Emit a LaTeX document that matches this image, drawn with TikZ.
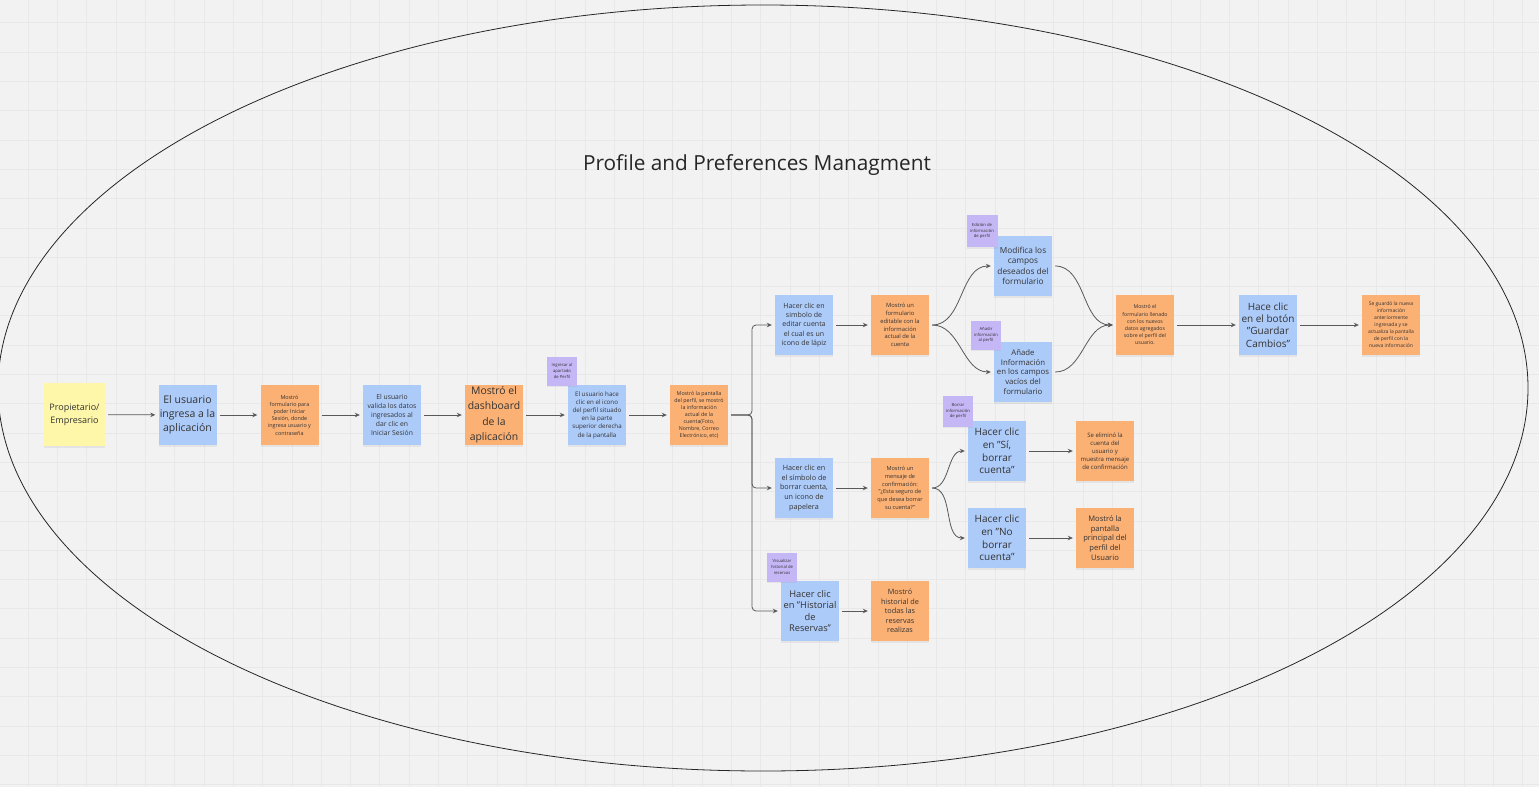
\documentclass[tikz,border=0pt]{standalone}
\usepackage{fontspec}
\setmainfont{Open Sans}
\usepackage{tikz}
\usetikzlibrary{arrows.meta,positioning,shadows}

\definecolor{fondo}{HTML}{F2F2F2}
\definecolor{rejilla}{HTML}{E8E8E8}
\definecolor{notaAmarilla}{HTML}{FEF6A8}
\definecolor{notaAzul}{HTML}{ADCBF9}
\definecolor{notaNaranja}{HTML}{FBB074}
\definecolor{notaMorada}{HTML}{C5B6F6}
\definecolor{texto}{HTML}{333333}
\newcommand{\fz}[2]{\fontsize{#1}{#2}\selectfont}

\begin{document}
\begin{tikzpicture}[x=1pt, y=-1pt, >={Stealth[length=5pt,width=4.5pt]},
	nota/.style={minimum width=58pt, minimum height=60pt, inner sep=0pt, align=center, text=texto,
		drop shadow={opacity=0.12, shadow xshift=0pt, shadow yshift=-1.5pt}},
	amarilla/.style={nota, fill=notaAmarilla, minimum width=61pt, minimum height=63pt},
	azul/.style={nota, fill=notaAzul},
	naranja/.style={nota, fill=notaNaranja},
	morada/.style={nota, fill=notaMorada, minimum width=30pt, minimum height=29pt, font=\fz{4.2}{5.6}},
	flecha/.style={->, draw=black!65, line width=0.8pt, shorten >=3pt, shorten <=3pt}]

% ---- fondo ----
\fill[fondo] (0,0) rectangle (1539,787);
\useasboundingbox (0,0) rectangle (1539,787);
\foreach \gx in {0,...,51}
	\draw[rejilla, line width=0.6pt] ({28.1+29.3*\gx},0) -- ++(0,787);
\foreach \gy in {0,...,26}
	\draw[rejilla, line width=0.6pt] (0,{22.7+29.3*\gy}) -- ++(1539,0);
\draw[black!85, line width=0.8pt] (763,388) ellipse [x radius=765, y radius=383];
\node[font=\fz{20.8}{25}, text=black!85] (titulo) at (757,165) {Profile and Preferences Managment};

% ---- flujo principal ----
\node[amarilla, font=\fz{9}{13}] (prop) at (74.5,414.5) {Propietario/\\Empresario};
\node[azul, font=\fz{10.5}{14}] (usuario) at (187.5,415) {El usuario\\ingresa a la\\aplicación};
\node[naranja, font=\fz{5.4}{7.2}] (formLogin) at (289.5,415) {Mostró\\formulario para\\poder Iniciar\\Sesión, donde\\ingresa usuario y\\contraseña};
\node[azul, font=\fz{6.8}{9}] (valida) at (392,415) {El usuario\\valida los datos\\ingresados al\\dar clic en\\Iniciar Sesión};
\node[naranja, font=\fz{10.4}{15.5}] (dashboard) at (494,415) {Mostró el\\dashboard\\de la\\aplicación};
\node[azul, font=\fz{6.2}{8.2}] (clicPerfil) at (597,415) {El usuario hace\\clic en el icono\\del perfil situado\\en la parte\\superior derecha\\de la pantalla};
\node[naranja, font=\fz{5.3}{7}] (perfil) at (699,415) {Mostró la pantalla\\del perfil, se mostró\\la información\\actual de la\\cuenta(Foto,\\Nombre, Correo\\Electrónico, etc)};

% ---- editar cuenta ----
\node[azul, font=\fz{7}{9.3}] (editar) at (804,325) {Hacer clic en\\simbolo de\\editar cuenta\\el cual es un\\icono de lápiz};
\node[naranja, font=\fz{5.8}{7.8}] (formEdit) at (900,325) {Mostró un\\formulario\\editable con la\\información\\actual de la\\cuenta};
\node[azul, font=\fz{8.3}{10.5}] (modifica) at (1023,266) {Modifica los\\campos\\deseados del\\formulario};
\node[azul, font=\fz{7.8}{9.8}] (anade) at (1023,372) {Añade\\Información\\en los campos\\vacíos del\\formulario};
\node[naranja, font=\fz{5.2}{7.2}] (formLleno) at (1145,325) {Mostró el\\formulario llenado\\con los nuevos\\datos agregados\\sobre el perfil del\\usuario.};
\node[azul, font=\fz{10}{12.4}] (guardar) at (1268,325) {Hace clic\\en el botón\\"Guardar\\Cambios"};
\node[naranja, font=\fz{5}{7}] (guardado) at (1391,325) {Se guardó la nueva\\información\\anteriormente\\ingresada y se\\actualiza la pantalla\\de perfil con la\\nueva información};

% ---- borrar cuenta ----
\node[azul, font=\fz{7.2}{9.6}] (borrar) at (804,488) {Hacer clic en\\el símbolo de\\borrar cuenta,\\un icono de\\papelera};
\node[naranja, font=\fz{5.6}{7.7}] (confirma) at (900,488) {Mostró un\\mensaje de\\confirmación:\\"¿Esta seguro de\\que desea borrar\\su cuenta?"};
\node[azul, font=\fz{10}{12.8}] (si) at (997,451) {Hacer clic\\en "Sí,\\borrar\\cuenta"};
\node[naranja, font=\fz{6}{8}] (eliminada) at (1105,451) {Se eliminó la\\cuenta del\\usuario y\\muestra mensaje\\de confirmación};
\node[azul, font=\fz{10}{12.8}] (no) at (997,538) {Hacer clic\\en "No\\borrar\\cuenta"};
\node[naranja, font=\fz{7.6}{9.8}] (principal) at (1105,538) {Mostró la\\pantalla\\principal del\\perfil del\\Usuario};

% ---- historial ----
\node[azul, font=\fz{9.3}{11.5}] (historial) at (810,611) {Hacer clic\\en "Historial\\de\\Reservas"};
\node[naranja, font=\fz{7.3}{9.6}] (reservas) at (900,611) {Mostró\\historial de\\todas las\\reservas\\realizas};

% ---- notas moradas ----
\node[morada] (pIngresar) at (562,371) {Ingresar al\\apartado\\de Perfil};
\node[morada, minimum width=31pt, minimum height=32pt] (pEdicion) at (982,231) {Edición de\\información\\de perfil};
\node[morada] (pAnadir) at (986,335) {Añadir\\información\\al perfil};
\node[morada, minimum height=31pt] (pBorrar) at (958,411) {Borrar\\información\\de perfil};
\node[morada] (pHistorial) at (782,567) {Visualizar\\historial de\\reservas};

% ---- conectores ----
\foreach \a/\b in {prop/usuario, usuario/formLogin, formLogin/valida, valida/dashboard,
	dashboard/clicPerfil, clicPerfil/perfil, editar/formEdit, formLleno/guardar,
	guardar/guardado, borrar/confirma, si/eliminada, no/principal, historial/reservas}
	\draw[flecha] (\a) -- (\b);
\coordinate (rama) at (752,415);
\foreach \b in {editar, borrar, historial}
	\draw[flecha, rounded corners=4pt] (perfil.east) -- (rama) |- (\b.west);
\foreach \a/\b in {formEdit/modifica, formEdit/anade, modifica/formLleno, anade/formLleno,
	confirma/si, confirma/no}
	\draw[flecha] (\a.east) to[out=0, in=180] (\b.west);
\end{tikzpicture}
\end{document}
